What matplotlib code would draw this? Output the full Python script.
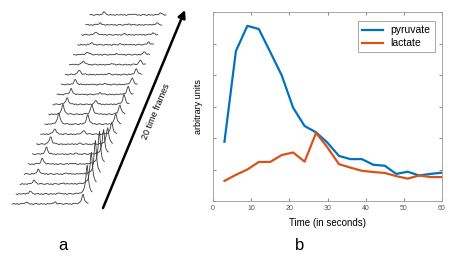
import numpy as np
import matplotlib
matplotlib.use("Agg")
import matplotlib.pyplot as plt

plt.rcParams["font.family"] = ["Liberation Sans", "DejaVu Sans"]

# -----------------------------------------------------------------------------
# Panel b data
# -----------------------------------------------------------------------------
time_s = [3, 6, 9, 12, 15, 18, 21, 24, 27, 30, 33, 36, 39, 42, 45, 48, 51, 54, 57, 60]
pyruvate = [1.88, 4.76, 5.56, 5.46, 4.73, 3.99, 2.96, 2.38, 2.18, 1.85,
            1.43, 1.33, 1.33, 1.15, 1.12, 0.86, 0.93, 0.81, 0.86, 0.90]
lactate = [0.64, 0.83, 1.00, 1.24, 1.24, 1.46, 1.54, 1.25, 2.16, 1.70,
           1.17, 1.06, 0.96, 0.92, 0.89, 0.79, 0.71, 0.81, 0.76, 0.76]
xticks_b = [0, 10, 20, 30, 40, 50, 60]

# -----------------------------------------------------------------------------
# Panel a data: peak heights per time frame (pixels)
# -----------------------------------------------------------------------------
lac_peak = [2, 3, 4, 5, 6, 7, 8, 6, 12, 10, 7, 6, 5, 5, 4, 3, 2, 3, 2, 3]
mid_peak = [2, 1, 1, 1, 1, 1, 1, 4, 10, 10, 4, 2, 1, 1, 1, 1, 1, 1, 1, 1]
pyr_peak = [10, 30, 33, 34, 33, 25, 17, 12, 11, 10, 10, 8, 7, 6, 5, 3, 3, 2, 2, 2]
# small hand-drawn baseline ripple (pixels)
ripple = [0.0, 0.4, -0.2, 0.3, -0.5, 0.1, 0.5, -0.1, -0.4, 0.2, 0.4, -0.3,
          0.1, -0.5, 0.3, 0.5, -0.1, -0.4, 0.4, -0.2, 0.1, -0.4, 0.3, 0.0]

blue = "#0072BD"
red = "#D95319"

fig = plt.figure(figsize=(4.71, 2.60), dpi=100)

# -----------------------------------------------------------------------------
# Panel a: stacked spectra, drawn in pixel units
# -----------------------------------------------------------------------------
ax_a = fig.add_axes([0, 0, 200 / 471, 1])
ax_a.set_xlim(0, 200)
ax_a.set_ylim(260, 0)
ax_a.axis("off")

n_pts = 96
rel = np.linspace(0, 76, n_pts)
peak_pos = [14, 43, 71]
width = 1.4
x0, y0, dx, dy = 12, 204, 4.1, 9.95
rip = np.resize(np.repeat(np.array(ripple), 2), n_pts)

for k in range(len(pyr_peak)):
    spec = np.zeros(n_pts)
    for pos, h in zip(peak_pos, [lac_peak[k], mid_peak[k], pyr_peak[k]]):
        spec += h / (1 + ((rel - pos) / width) ** 2)
    spec += np.roll(rip, 7 * k)
    ax_a.plot(x0 + dx * k + rel, y0 - dy * k - spec, color="#3a3a3a", lw=0.6)

ax_a.annotate("", xy=(185, 10), xytext=(103, 208),
              arrowprops=dict(arrowstyle="-|>", lw=1.8, color="black",
                              mutation_scale=11, shrinkA=0, shrinkB=0))
ax_a.text(156, 112, "20 time frames", rotation=67.5, rotation_mode="anchor",
          ha="center", va="center", fontsize=6.5)
ax_a.text(63, 245, "a", fontsize=12, ha="center", va="center")
ax_a.text(300, 245, "b", fontsize=12, ha="center", va="center", clip_on=False)

# -----------------------------------------------------------------------------
# Panel b: pyruvate / lactate time curves
# -----------------------------------------------------------------------------
ax_b = fig.add_axes([213 / 471, 59 / 260, 229 / 471, 189 / 260])
ax_b.plot(time_s, pyruvate, color=blue, lw=1.6, label="pyruvate")
ax_b.plot(time_s, lactate, color=red, lw=1.6, label="lactate")
ax_b.set_xlim(0, 60)
ax_b.set_ylim(0, 6)
ax_b.set_xticks(xticks_b)
ax_b.set_yticks(range(7))
ax_b.set_yticklabels([])
ax_b.tick_params(direction="in", length=2, width=0.5, labelsize=5,
                 colors="#555555", top=True, right=True, pad=3)
for s in ax_b.spines.values():
    s.set_color("#999999")
    s.set_linewidth(0.6)
ax_b.set_xlabel("Time (in seconds)", fontsize=7, labelpad=4)
ax_b.set_ylabel("arbitrary units", fontsize=6.5, labelpad=4)
leg = ax_b.legend(loc="upper right", fontsize=7.5, handlelength=2.0,
                  fancybox=False, framealpha=1, borderpad=0.4,
                  handletextpad=0.7, labelspacing=0.3,
                  bbox_to_anchor=(0.99, 0.98))
leg.get_frame().set_edgecolor("#999999")
leg.get_frame().set_linewidth(0.6)

fig.savefig("out.png", dpi=100)
